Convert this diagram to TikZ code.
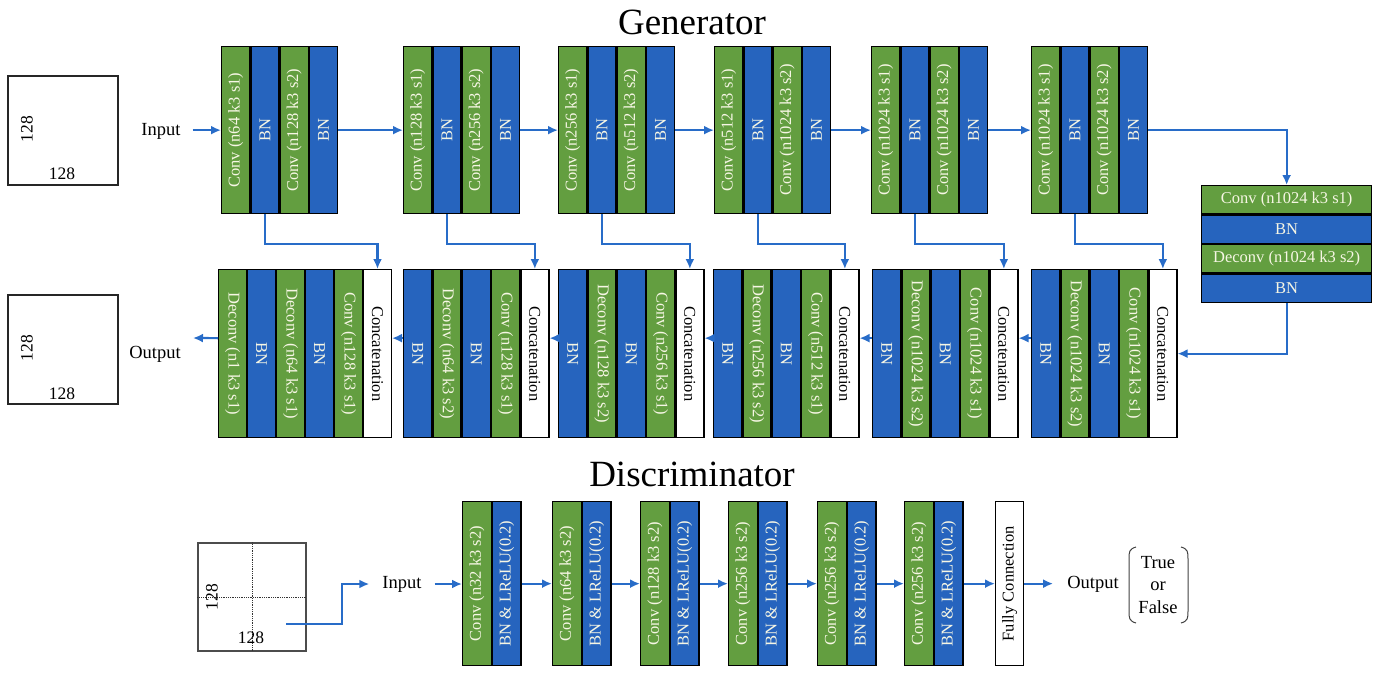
\documentclass[tikz,border=0pt]{standalone}
\usepackage{fontspec}
\setmainfont{Liberation Serif}
\usetikzlibrary{arrows.meta}
\definecolor{cgreen}{RGB}{99,158,64}
\definecolor{cblue}{RGB}{38,100,190}
\definecolor{carrow}{RGB}{40,108,200}
\definecolor{ctext}{RGB}{246,246,228}
\begin{document}
\begin{tikzpicture}[x=1pt,y=-1pt,
  box/.style={draw=black, line width=1.3pt, inner sep=0pt, anchor=north west, font=\fontsize{16.5}{18}\selectfont},
  gstrip/.style={box, fill=cgreen, text=ctext},
  bstrip/.style={box, fill=cblue, text=ctext},
  wstrip/.style={box, fill=white, text=black},
  tall/.style={minimum width=28pt, minimum height=167pt},
  low/.style={minimum width=28pt, minimum height=168pt},
  lowa/.style={minimum width=27.7pt, minimum height=168pt},
  dsty/.style={minimum width=28.5pt, minimum height=164pt},
  row/.style={minimum width=170pt, minimum height=28.25pt},
  arr/.style={draw=carrow, line width=2.2pt, -{Latex[length=10pt,width=9pt]}},
  lbl/.style={font=\fontsize{18.5}{22.5}\selectfont, inner sep=0pt},
  num/.style={font=\fontsize{17.5}{20}\selectfont, inner sep=0pt},
  ttl/.style={font=\fontsize{37}{40}\selectfont, anchor=base, inner sep=0pt},
  imgbox/.style={draw=black!85, line width=1.4pt, inner sep=0pt}
]
\useasboundingbox (0,0) rectangle (1378,672);

% titles
\node[ttl] (tgen) at (692,34) {Generator};
\node[ttl] (tdis) at (692,486) {Discriminator};

% generator input / output images
\node[imgbox, minimum width=110pt, minimum height=109pt] (gin) at (63,130.5) {};
\node[num, rotate=90] (gin-l) at (27,129) {128};
\node[num] (gin-b) at (62,174) {128};
\node[imgbox, minimum width=110pt, minimum height=109pt] (gout) at (63,349.5) {};
\node[num, rotate=90] (gout-l) at (27,348) {128};
\node[num] (gout-b) at (62,394) {128};
\node[lbl] (inG) at (161,131) {Input};
\node[lbl] (outG) at (155,354) {Output};

% top row (encoder)
\foreach \i/\x/\ta/\tb in {1/221/{Conv (n64 k3 s1)}/{Conv (n128 k3 s2)},
  2/403/{Conv (n128 k3 s1)}/{Conv (n256 k3 s2)},
  3/558/{Conv (n256 k3 s1)}/{Conv (n512 k3 s2)},
  4/714/{Conv (n512 k3 s1)}/{Conv (n1024 k3 s2)},
  5/871/{Conv (n1024 k3 s1)}/{Conv (n1024 k3 s2)},
  6/1031/{Conv (n1024 k3 s1)}/{Conv (n1024 k3 s2)}}{
  \node[gstrip,tall] (g\i-a) at (\x,46) {\rotatebox{90}{\ta}};
  \node[bstrip,tall] (g\i-b) at (g\i-a.north east) {\rotatebox{90}{BN}};
  \node[gstrip,tall] (g\i-c) at (g\i-b.north east) {\rotatebox{90}{\tb}};
  \node[bstrip,tall] (g\i-d) at (g\i-c.north east) {\rotatebox{90}{BN}};
}

% bottleneck block
\node[gstrip,row] (r1) at (1201,185) {Conv (n1024 k3 s1)};
\node[bstrip,row] (r2) at (r1.south west) {BN};
\node[gstrip,row] (r3) at (r2.south west) {Deconv (n1024 k3 s2)};
\node[bstrip,row] (r4) at (r3.south west) {BN};

% bottom row (decoder)
\node[gstrip,lowa] (bb1-a) at (218,269) {\rotatebox{-90}{Deconv (n1 k3 s1)}};
\node[bstrip,lowa] (bb1-b) at (bb1-a.north east) {\rotatebox{-90}{BN}};
\node[gstrip,lowa] (bb1-c) at (bb1-b.north east) {\rotatebox{-90}{Deconv (n64 k3 s1)}};
\node[bstrip,lowa] (bb1-d) at (bb1-c.north east) {\rotatebox{-90}{BN}};
\node[gstrip,lowa] (bb1-e) at (bb1-d.north east) {\rotatebox{-90}{Conv (n128 k3 s1)}};
\node[wstrip,lowa] (cat1) at (bb1-e.north east) {\rotatebox{-90}{Concatenation}};
\foreach \i/\x/\ta/\tb in {2/403/{Deconv (n64 k3 s2)}/{Conv (n128 k3 s1)},
  3/558/{Deconv (n128 k3 s2)}/{Conv (n256 k3 s1)},
  4/713/{Deconv (n256 k3 s2)}/{Conv (n512 k3 s1)},
  5/872/{Deconv (n1024 k3 s2)}/{Conv (n1024 k3 s1)},
  6/1031/{Deconv (n1024 k3 s2)}/{Conv (n1024 k3 s1)}}{
  \node[bstrip,low] (bb\i-a) at (\x,269) {\rotatebox{-90}{BN}};
  \node[gstrip,low] (bb\i-b) at (bb\i-a.north east) {\rotatebox{-90}{\ta}};
  \node[bstrip,low] (bb\i-c) at (bb\i-b.north east) {\rotatebox{-90}{BN}};
  \node[gstrip,low] (bb\i-d) at (bb\i-c.north east) {\rotatebox{-90}{\tb}};
  \node[wstrip,low] (cat\i) at (bb\i-d.north east) {\rotatebox{-90}{Concatenation}};
}

% generator connectors
\draw[arr, shorten <=12pt] (inG.east |- g1-a.west) -- (g1-a.west);
\foreach \i/\j in {1/2,2/3,3/4,4/5,5/6}{
  \draw[arr] (g\i-d.east) -- (g\j-a.west);
}
\draw[arr] (g6-d.east) -| (r1.north);
\draw[arr] (r4.south) |- (cat6.east);
\foreach \i in {1,...,6}{
  \draw[arr] (g\i-b.south) -- ++(0,29.5) -| (cat\i.north);
}
\foreach \i/\j in {2/1,3/2,4/3,5/4,6/5}{
  \draw[arr] ([yshift=15.5pt]bb\i-a.west) -- ([yshift=15.5pt]cat\j.east);
}
\coordinate (outTip) at (193,338);
\draw[arr] ([yshift=15.5pt]bb1-a.west) -- (outTip);

% discriminator input image
\node[draw=black!70, line width=1.1pt, inner sep=0pt, minimum width=108pt, minimum height=108pt] (dimg) at (252,597) {};
\draw[black!80, densely dotted, line width=0.8pt] (dimg.north) -- (dimg.south);
\draw[black!80, densely dotted, line width=0.8pt] (dimg.west) -- (dimg.east);
\node[num, rotate=90] (dimg-l) at (212,597) {128};
\node[num] (dimg-b) at (251,638) {128};
\coordinate (dstart) at (286,624);
\node[lbl] (inD) at (402,584) {Input};
\draw[arr, shorten >=13pt] (dstart) -- ++(56,0) |- (inD.west);

% discriminator blocks
\foreach \i/\x/\n in {1/462/32, 2/552/64, 3/640/128, 4/728/256, 5/817/256, 6/904/256}{
  \node[gstrip,dsty] (d\i-a) at (\x,501) {\rotatebox{90}{Conv (n\n{} k3 s2)}};
  \node[bstrip,dsty] (d\i-b) at (d\i-a.north east) {\rotatebox{90}{BN \& LReLU(0.2)}};
}
\node[wstrip, minimum width=28pt, minimum height=164pt] (fc) at (995,501) {\rotatebox{90}{Fully Connection}};
\draw[arr, shorten <=13pt] (inD.east) -- (inD.east -| d1-a.west);
\foreach \i/\j in {1/2,2/3,3/4,4/5,5/6}{
  \draw[arr] (d\i-b.east) -- (d\j-a.west);
}
\draw[arr] (d6-b.east) -- (fc.west);
\node[lbl] (outD) at (1093,584) {Output};
\draw[arr, shorten >=14pt] (fc.east) -- (fc.east -| outD.west);
\node[lbl, align=center] (tf) at (1158,585) {True\\or\\False};
\draw[black!75, line width=1pt] (1136,547) .. controls (1129,549) and (1129,552) .. (1129,559) -- (1129,611) .. controls (1129,618) and (1129,621) .. (1136,623);
\draw[black!75, line width=1pt] (1181,547) .. controls (1188,549) and (1188,552) .. (1188,559) -- (1188,611) .. controls (1188,618) and (1188,621) .. (1181,623);
\end{tikzpicture}
\end{document}
